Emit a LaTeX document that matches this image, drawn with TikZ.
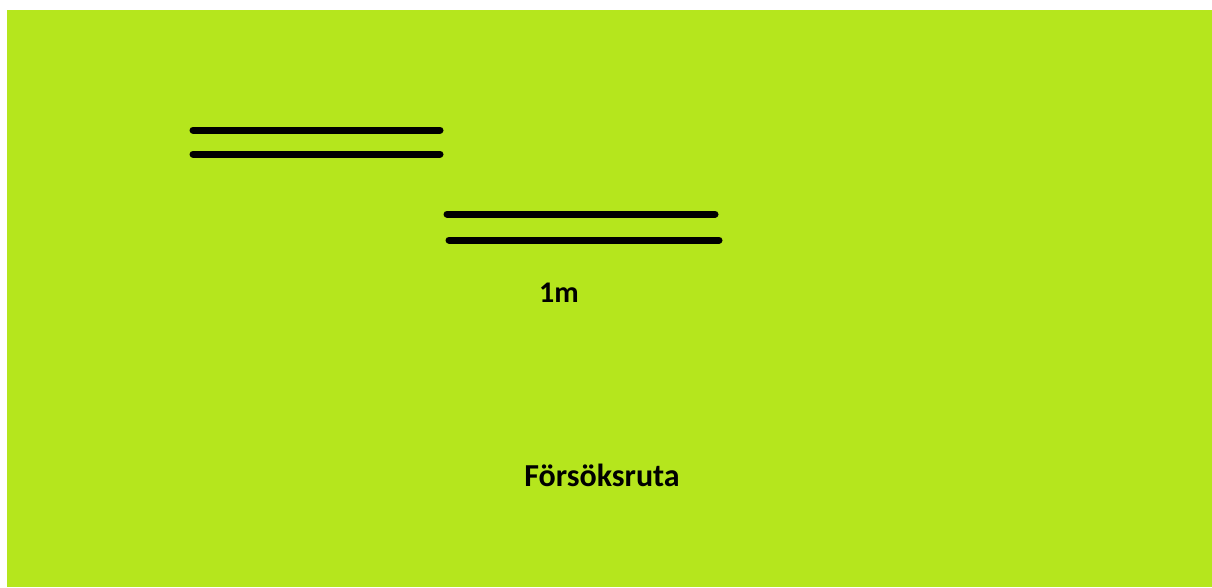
\documentclass[tikz,border=0pt]{standalone}
\usepackage{fontspec}
\setmainfont{Carlito}
\definecolor{lime}{HTML}{B5E61D}
\begin{document}
\begin{tikzpicture}[x=1pt,y=-1pt,
  bar/.style={line width=7pt,line cap=round,black},
  lbl/.style={font=\bfseries\fontsize{30}{36}\selectfont,inner sep=0pt}]
\useasboundingbox (0,0) rectangle (1212,587);
\fill[white] (0,0) rectangle (1212,587);
\fill[lime] (7,10) rectangle (1212,587);
\coordinate (a1) at (193,130); \coordinate (a2) at (440,130);
\coordinate (b1) at (193,154); \coordinate (b2) at (440,154);
\coordinate (c1) at (447,214); \coordinate (c2) at (715,214);
\coordinate (d1) at (449,240); \coordinate (d2) at (719,240);
\draw[bar] (a1) -- (a2);
\draw[bar] (b1) -- (b2);
\draw[bar] (c1) -- (c2);
\draw[bar] (d1) -- (d2);
\node[lbl] (m) at (559,293) {1m};
\node[lbl,font=\bfseries\fontsize{32}{38}\selectfont] (f) at (602,475) {Försöksruta};
\end{tikzpicture}
\end{document}
